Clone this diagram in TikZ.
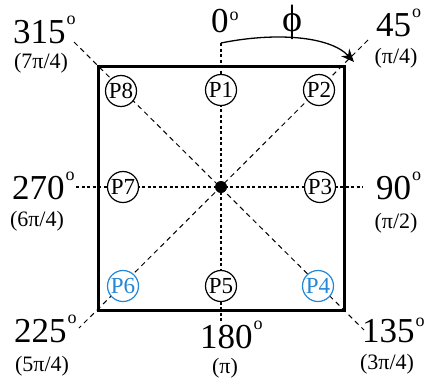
\documentclass[tikz,border=0pt]{standalone}
\usepackage{fontspec}
\setmainfont{Liberation Serif}
\usetikzlibrary{arrows.meta}
\definecolor{pblue}{RGB}{35,135,215}
\newcommand{\dg}[2][19pt]{#2\hspace{1pt}\raisebox{#1}{\fontsize{18}{18}\selectfont o}}
\begin{document}
\begin{tikzpicture}[x=1pt,y=-1pt,
  big/.style={font=\fontsize{35}{35}\selectfont, inner sep=0, anchor=base west},
  small/.style={font=\fontsize{22}{22}\selectfont, inner sep=0},
  ptn/.style={circle, draw, line width=1.2pt, fill=white, minimum size=31pt, inner sep=0, font=\fontsize{23}{23}\selectfont},
  bluept/.style={ptn, draw=pblue, text=pblue},
  axisline/.style={line width=1.6pt, dash pattern=on 3pt off 2.5pt},
  diagline/.style={line width=1pt, dash pattern=on 5pt off 4pt},
  frame/.style={line width=3pt}]
\useasboundingbox (0,0) rectangle (425,386);
% coordinates
\coordinate (c) at (221,187);
\coordinate (top) at (221,43);
\coordinate (bot) at (221,323);
\coordinate (lft) at (76,187);
\coordinate (rgt) at (363,187);
\coordinate (d315) at (74,42);
\coordinate (d45) at (368,40);
\coordinate (d135) at (364,330);
\coordinate (d225) at (79,328);
\coordinate (arrowtip) at (354,62);
% axes and diagonals
\draw[axisline] (top) -- (bot);
\draw[axisline] (lft) -- (rgt);
\draw[diagline] (d315) -- (d135);
\draw[diagline] (d45) -- (d225);
% frame
\draw[frame] (98,66) rectangle (344,310);
% arc arrow
\draw[line width=1.3pt, -{Stealth[length=13pt,width=11pt]}] (top) .. controls (275,32) and (330,36) .. (arrowtip);
% points
\node[ptn] (p1) at (221,90) {P1};
\node[ptn] (p2) at (319,90) {P2};
\node[ptn] (p3) at (320,187) {P3};
\node[bluept] (p4) at (318,286) {P4};
\node[ptn] (p5) at (221,286) {P5};
\node[bluept] (p6) at (123,286) {P6};
\node[ptn] (p7) at (123,187) {P7};
\node[ptn] (p8) at (121,91) {P8};
\fill (c) circle (6pt);
% labels
\node[big] (l0) at (211,32) {\dg[12pt]{0}};
\node[inner sep=0, font=\fontsize{38}{38}\selectfont] (phi) at (292,22) {ϕ};
\node[big] (l45) at (376,36) {\dg{45}};
\node[small] (r45) at (396,58) {(π/4)};
\node[big] (l315) at (13,43) {\dg{315}};
\node[small] (r315) at (41,63) {(7π/4)};
\node[big] (l270) at (12,199) {\dg{270}};
\node[small] (r270) at (37,221) {(6π/4)};
\node[big] (l90) at (376,199) {\dg{90}};
\node[small] (r90) at (396,223) {(π/2)};
\node[big] (l225) at (14,342) {\dg{225}};
\node[small] (r225) at (42,366) {(5π/4)};
\node[big] (l180) at (200,348) {\dg{180}};
\node[small] (r180) at (225,368) {(π)};
\node[big] (l135) at (362,342) {\dg[16pt]{135}};
\node[small] (r135) at (387,364) {(3π/4)};
\end{tikzpicture}
\end{document}
